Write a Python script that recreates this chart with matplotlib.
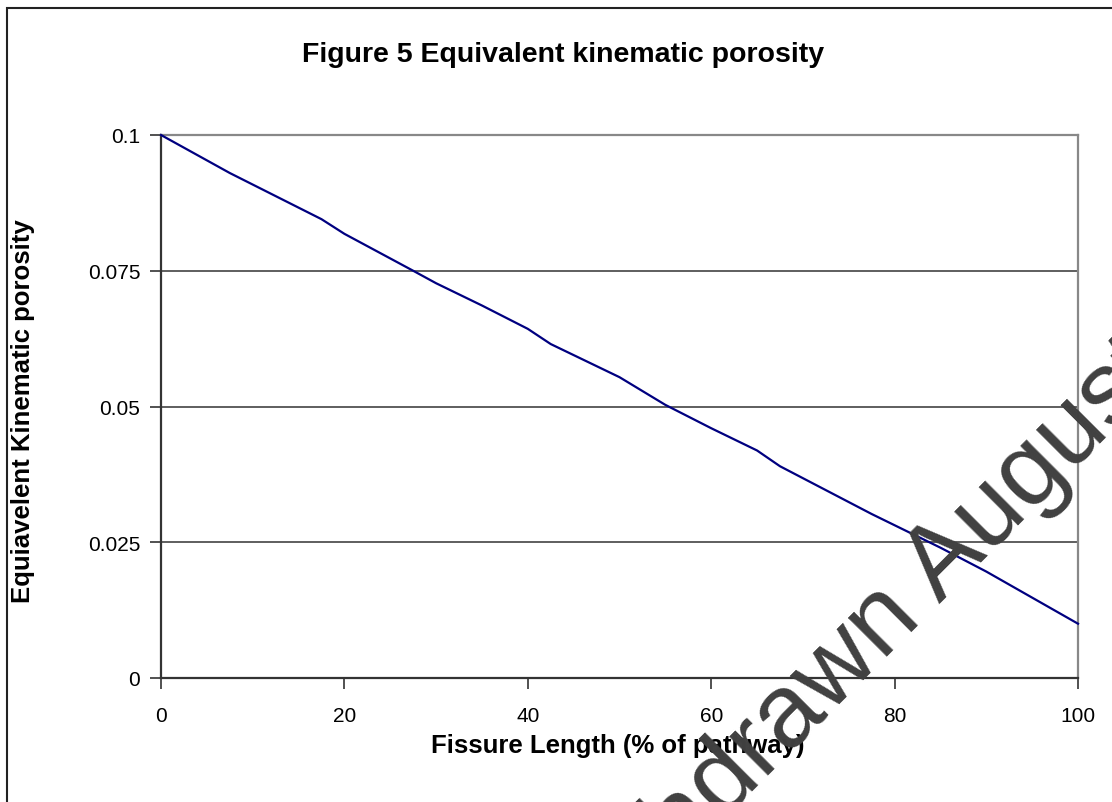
"""Figure 5: equivalent kinematic porosity against fissure length."""
import matplotlib
matplotlib.use("Agg")
import matplotlib.pyplot as plt
from matplotlib.patches import Rectangle

# values
fissure_length = [0, 7.5, 17.5, 20, 27.5, 30, 35, 40, 42.5, 50, 55, 60, 65,
                  67.5, 77.5, 85, 90, 100]
porosity = [0.1, 0.0930, 0.0845, 0.0818, 0.0750, 0.0727, 0.0686, 0.0643,
            0.0615, 0.0554, 0.0503, 0.0460, 0.0419, 0.0390, 0.0302, 0.0240,
            0.0196, 0.0100]
x_ticks = [0, 20, 40, 60, 80, 100]
y_ticks = [0, 0.025, 0.05, 0.075, 0.1]
y_tick_labels = ["0", "0.025", "0.05", "0.075", "0.1"]

plt.rcParams['font.family'] = ['Liberation Sans', 'DejaVu Sans']

fig = plt.figure(figsize=(11.12, 8.03), dpi=100)
ax = fig.add_axes([161 / 1112, 1 - 679 / 803, 917 / 1112, 543 / 803])

# horizontal gridlines
for v in y_ticks[1:-1]:
    ax.axhline(v, color='#333333', lw=1.1, zorder=1)

ax.plot(fissure_length, porosity, color='#000080', lw=1.6, zorder=3,
        clip_on=False)

ax.set_xlim(0, 100)
ax.set_ylim(0, 0.1)
ax.set_xticks(x_ticks)
ax.set_yticks(y_ticks)
ax.set_yticklabels(y_tick_labels)
ax.tick_params(axis='both', direction='out', length=8, width=1.2,
               color='#333333', labelsize=15)
ax.tick_params(axis='x', pad=12)
ax.tick_params(axis='y', pad=7)

for side in ('left', 'bottom'):
    ax.spines[side].set_color('#333333')
    ax.spines[side].set_linewidth(1.6)
for side in ('top', 'right'):
    ax.spines[side].set_color('#888888')
    ax.spines[side].set_linewidth(1.6)

fig.text(618 / 1112, 1 - 746 / 803, "Fissure Length (% of pathway)",
         fontsize=18.5, fontweight='bold', ha='center', va='center')
fig.text(23 / 1112, 1 - 411 / 803, "Equiavelent Kinematic porosity",
         fontsize=18.5, fontweight='bold', ha='center', va='center',
         rotation=90)
fig.text(563 / 1112, 1 - 55 / 803, "Figure 5 Equivalent kinematic porosity",
         fontsize=20.5, fontweight='bold', ha='center', va='center')

# chart frame, running off the right and bottom edges
fig.patches.append(Rectangle((7 / 1112, -0.1), 1.2, 1.1 - 9 / 803,
                             transform=fig.transFigure, fill=False,
                             edgecolor='#222222', lw=1.5))

# watermark
fig.text(575 / 1112, 1 - 968 / 803, "Withdrawn August", fontsize=75,
         color='#404040', rotation=45, rotation_mode='anchor',
         ha='left', va='baseline', zorder=10)

fig.savefig("out.png", dpi=100)
